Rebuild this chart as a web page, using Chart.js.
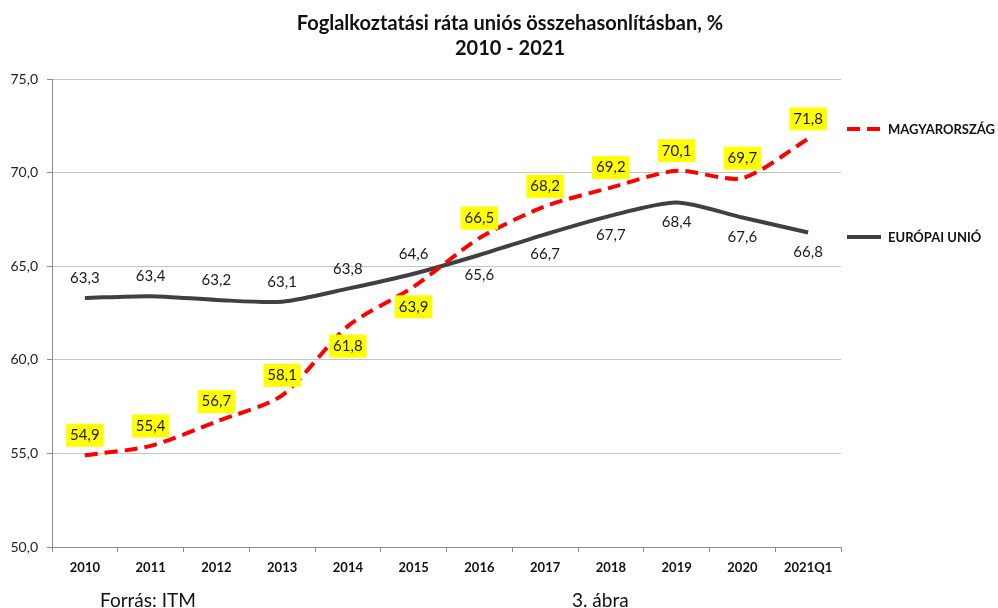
<!DOCTYPE html>
<html>
<head>
<meta charset="utf-8">
<script src="https://cdn.jsdelivr.net/npm/chart.js@4.4.1/dist/chart.umd.min.js"></script>
<style>
  html, body { margin: 0; padding: 0; background: #fff; }
  #wrap { position: relative; width: 998px; height: 608px; }
  .note { position: absolute; top: 588px; font: 19px Lato, sans-serif; color: #111; line-height: 24px; }
</style>
</head>
<body>
<div id="wrap">
  <canvas id="myChart" width="998" height="608"></canvas>
  <div class="note" style="left:100px">Forrás: ITM</div>
  <div class="note" style="left:572px">3. ábra</div>
</div>
<script>
  // The set up block
  const labels = ['2010', '2011', '2012', '2013', '2014', '2015', '2016', '2017', '2018', '2019', '2020', '2021Q1'];
  const huValues = [54.9, 55.4, 56.7, 58.1, 61.8, 63.9, 66.5, 68.2, 69.2, 70.1, 69.7, 71.8];
  const euValues = [63.3, 63.4, 63.2, 63.1, 63.8, 64.6, 65.6, 66.7, 67.7, 68.4, 67.6, 66.8];
  const yTicks = [50, 55, 60, 65, 70, 75];
  // which side of the line each value label sits on: -1 above, 1 below
  const huLabelSide = [-1, -1, -1, -1, 1, 1, -1, -1, -1, -1, -1, -1];
  const euLabelSide = [-1, -1, -1, -1, -1, -1, 1, 1, 1, 1, 1, 1];

  const fmt = v => v.toFixed(1).replace('.', ',');

  // value labels next to every point
  const valueLabels = {
    id: 'valueLabels',
    afterDatasetsDraw(chart, args, opts) {
      const ctx = chart.ctx;
      ctx.save();
      ctx.font = '15px Lato';
      ctx.textAlign = 'center';
      ctx.textBaseline = 'middle';
      chart.data.datasets.forEach((ds, i) => {
        const side = opts.sides[i];
        chart.getDatasetMeta(i).data.forEach((pt, j) => {
          const text = fmt(ds.data[j]);
          const y = pt.y + side[j] * 20;
          if (opts.boxes[i]) {
            const w = ctx.measureText(text).width + 8;
            ctx.fillStyle = opts.boxes[i];
            ctx.fillRect(pt.x - w / 2, y - 11.5, w, 23);
          }
          ctx.fillStyle = '#1a1a1a';
          ctx.fillText(text, pt.x, y);
        });
      });
      ctx.restore();
    }
  };

  // legend on the right side
  const sideLegend = {
    id: 'sideLegend',
    afterDraw(chart, args, opts) {
      const ctx = chart.ctx;
      const x0 = chart.chartArea.right + 6;
      ctx.save();
      chart.data.datasets.forEach((ds, i) => {
        const y = opts.rows[i];
        ctx.strokeStyle = ds.borderColor;
        ctx.lineWidth = 4;
        ctx.setLineDash(ds.borderDash || []);
        ctx.beginPath();
        ctx.moveTo(x0, y);
        ctx.lineTo(x0 + 34, y);
        ctx.stroke();
        ctx.setLineDash([]);
        ctx.fillStyle = '#111';
        ctx.font = 'bold 13px Lato';
        ctx.textBaseline = 'middle';
        ctx.fillText(ds.label, x0 + 41, y + 1);
      });
      ctx.restore();
    }
  };

  const data = {
    labels: labels,
    datasets: [{
      label: 'MAGYARORSZÁG',
      data: huValues,
      borderColor: '#ff0000',
      borderWidth: 4,
      borderDash: [13, 7],
      tension: 0.25,
      pointRadius: 0
    }, {
      label: 'EURÓPAI UNIÓ',
      data: euValues,
      borderColor: '#404040',
      borderWidth: 4,
      tension: 0.25,
      pointRadius: 0
    }]
  };

  const config = {
    type: 'line',
    data: data,
    plugins: [valueLabels, sideLegend],
    options: {
      responsive: false,
      animation: false,
      // negative right padding nudges the full-width title to the right
      layout: { padding: { left: 0, right: -22, top: 0, bottom: 25 } },
      plugins: {
        legend: { display: false },
        tooltip: { enabled: false },
        title: {
          display: true,
          text: ['Foglalkoztatási ráta uniós összehasonlításban, %', '2010 - 2021'],
          color: '#111',
          font: { family: 'Lato', size: 20, weight: 'bold', lineHeight: 1.25 },
          padding: { top: 11, bottom: 18 }
        },
        valueLabels: { sides: [huLabelSide, euLabelSide], boxes: ['#ffff00', null] },
        sideLegend: { rows: [129, 237] }
      },
      scales: {
        x: {
          offset: true,
          grid: { drawOnChartArea: false, offset: true, tickLength: 5, color: '#8c8c8c' },
          border: { color: '#8c8c8c' },
          ticks: {
            color: '#111',
            font: { family: 'Lato', size: 13, weight: 'bold' },
            padding: 8,
            maxRotation: 0,
            autoSkip: false
          },
          afterFit(scale) { scale.height = 36; }
        },
        y: {
          min: 50,
          max: 75,
          afterBuildTicks(scale) { scale.ticks = yTicks.map(v => ({ value: v })); },
          grid: { color: '#c4c4c4', tickColor: '#8c8c8c', tickLength: 5 },
          border: { color: '#8c8c8c' },
          ticks: {
            color: '#222',
            font: { family: 'Lato', size: 14 },
            padding: 9,
            callback: v => fmt(v)
          },
          afterFit(scale) { scale.width = 52; }
        },
        yRight: {
          position: 'right',
          grid: { display: false },
          border: { display: false },
          ticks: { display: false },
          afterFit(scale) { scale.width = 179; }
        }
      }
    }
  };

  const myChart = new Chart(
    document.getElementById('myChart'),
    config
  );
</script>
</body>
</html>
